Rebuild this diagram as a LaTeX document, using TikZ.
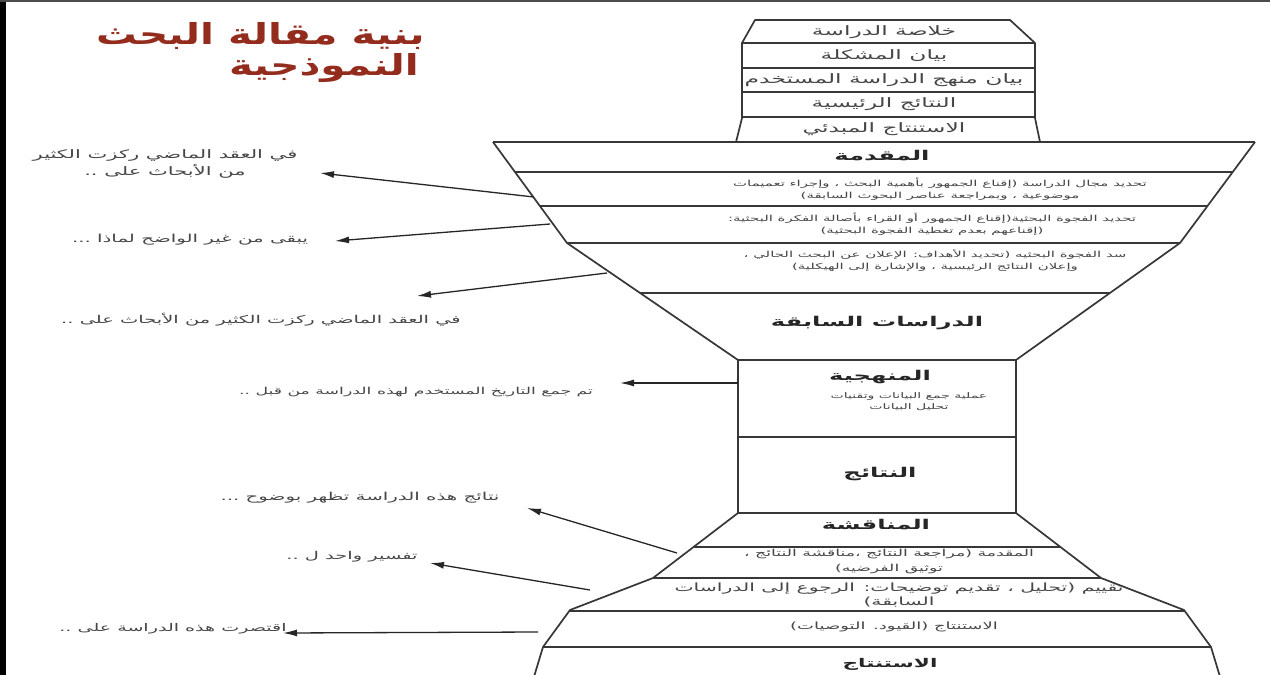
\documentclass[tikz,border=0pt]{standalone}
\usepackage{fontspec}
\usepackage{xcolor}
\usetikzlibrary{arrows.meta}
\newfontfamily\arabicfont[Script=Arabic, FakeStretch=1.8]{DejaVu Sans}
\newfontfamily\titlefont[Script=Arabic, FakeStretch=1.4]{DejaVu Sans}
\TeXXeTstate=1
\definecolor{titlered}{RGB}{148,44,30}
\definecolor{edgegray}{RGB}{55,55,55}
\definecolor{textgray}{RGB}{70,70,70}
\newcommand{\rtl}[1]{\beginR #1\endR}

\begin{document}
\begin{tikzpicture}[x=1pt, y=-1pt,
    edge/.style={draw=edgegray, line width=1.7pt, line join=round},
    rowline/.style={draw=edgegray, line width=1.5pt},
    size/.style 2 args={font=\arabicfont\fontsize{#1}{#2}\selectfont},
    cell/.style={text=textgray, align=center, inner sep=0pt, size={8.3}{12}},
    neckcell/.style={cell, size={13}{15}},
    head/.style={text=black!85, inner sep=0pt, font=\arabicfont\bfseries\fontsize{13.5}{16}\selectfont},
    note/.style={text=textgray, align=center, inner sep=0pt, size={11}{17}},
    pointer/.style={-{Latex[length=14pt,width=7pt]}, line width=1.3pt, black!85}]

    \useasboundingbox (0,0) rectangle (1270,675);
    \fill[white] (0,0) rectangle (1270,675);

    % scan border
    \fill[black] (0,0) rectangle (6,675);
    \fill[black!70] (0,0) rectangle (1270,2);

    % Title
    \node[anchor=east, inner sep=0pt, text=titlered, font=\titlefont\bfseries\fontsize{29}{34}\selectfont] (title1) at (425,36) {\rtl{بنية مقالة البحث}};
    \node[anchor=east, inner sep=0pt, text=titlered, font=\titlefont\bfseries\fontsize{29}{34}\selectfont] (title2) at (419,68) {\rtl{النموذجية}};

    % Neck: abstract
    \begin{scope}
        \clip (755,20) -- (1010,20) -- (1035,43) -- (1035,118) -- (1040,142) -- (736,142) -- (742,118) -- (742,43) -- cycle;
        \foreach \y in {43,68,92,117}
            \draw[rowline] (700,\y) -- (1100,\y);
    \end{scope}
    \draw[edge] (755,20) -- (1010,20) -- (1035,43) -- (1035,118) -- (1040,142) -- (736,142) -- (742,118) -- (742,43) -- cycle;

    \node[neckcell] (abs1) at (884,32) {\rtl{خلاصة الدراسة}};
    \node[neckcell] (abs2) at (884,56) {\rtl{بيان المشكلة}};
    \node[neckcell] (abs3) at (884,80) {\rtl{بيان منهج الدراسة المستخدم}};
    \node[neckcell] (abs4) at (884,104) {\rtl{النتائج الرئيسية}};
    \node[neckcell] (abs5) at (884,129) {\rtl{الاستنتاج المبدئي}};

    % Body: introduction, funnel, boxes, discussion
    \begin{scope}
        \clip (493,142) -- (567,243) -- (738,360) -- (738,513) -- (653,578) -- (570,610) -- (543,647) -- (530,690)
            -- (1224,690) -- (1211,647) -- (1184,610) -- (1101,578) -- (1016,513) -- (1016,360) -- (1180,243) -- (1255,142) -- cycle;
        \foreach \y in {172,206,243,293,360,437,513,547,578,611,647}
            \draw[rowline] (450,\y) -- (1300,\y);
    \end{scope}
    \draw[edge] (493,142) -- (567,243) -- (738,360) -- (738,513) -- (653,578) -- (570,610) -- (543,647) -- (530,690);
    \draw[edge] (1255,142) -- (1180,243) -- (1016,360) -- (1016,513) -- (1101,578) -- (1184,610) -- (1211,647) -- (1224,690);
    \draw[edge] (493,142) -- (1255,142);

    % Introduction
    \node[head] (intro) at (882,156) {\rtl{المقدمة}};
    \node[cell] (intro1) at (940,189) {\rtl{تحديد مجال الدراسة (إقناع الجمهور بأهمية البحث ، وإجراء تعميمات}\\\rtl{موضوعية ، وبمراجعة عناصر البحوث السابقة)}};
    \node[cell] (intro2) at (932,224) {\rtl{تحديد الفجوة البحثية(إقناع الجمهور أو القراء بأصالة الفكرة البحثية:}\\\rtl{(إقناعهم بعدم تغطية الفجوة البحثية)}};
    \node[cell] (intro3) at (935,261) {\rtl{سد الفجوة البحثيه (تحديد الأهداف: الإعلان عن البحث الحالي ،}\\\rtl{وإعلان النتائج الرئيسية ، والإشارة إلى الهيكلية)}};

    % Previous studies, methodology, results
    \node[head] (prev) at (877,323) {\rtl{الدراسات السابقة}};
    \node[head] (method) at (880,377) {\rtl{المنهجية}};
    \node[cell, size={7.8}{11}] (method1) at (909,402) {\rtl{عملية جمع البيانات وتقنيات}\\\rtl{تحليل البيانات}};
    \node[head] (results) at (880,474) {\rtl{النتائج}};

    % Discussion and conclusion
    \node[head] (disc) at (876,525) {\rtl{المناقشة}};
    \node[cell, size={9.6}{15}] (disc1) at (889,562) {\rtl{المقدمة (مراجعة النتائج ،مناقشة النتائج ،}\\\rtl{توثيق الفرضيه)}};
    \node[cell, size={11.3}{14}] (disc2) at (899,595) {\rtl{تقييم (تحليل ، تقديم توضيحات: الرجوع إلى الدراسات}\\\rtl{السابقة)}};
    \node[cell, size={10}{12}] (disc3) at (894,627) {\rtl{الاستنتاج (القيود. التوصيات)}};
    \node[head, font=\arabicfont\bfseries\fontsize{12}{14}\selectfont] (concl) at (890,664) {\rtl{الاستنتاج}};

    % Side notes
    \node[note, size={11.7}{17}] (note1) at (165,164) {\rtl{في العقد الماضي ركزت الكثير}\\\rtl{من الأبحاث على ..}};
    \node[note] (note2) at (190,240) {\rtl{يبقى من غير الواضح لماذا ...}};
    \node[note, size={10.8}{17}] (note3) at (261,320) {\rtl{في العقد الماضي ركزت الكثير من الأبحاث على ..}};
    \node[note, size={9.6}{17}] (note4) at (416,392) {\rtl{تم جمع التاريخ المستخدم لهذه الدراسة من قبل ..}};
    \node[note] (note5) at (360,498) {\rtl{نتائج هذه الدراسة تظهر بوضوح ...}};
    \node[note, size={10.8}{17}] (note6) at (352,557) {\rtl{تفسير واحد ل ..}};
    \node[note, size={10.6}{17}] (note7) at (173,629) {\rtl{اقتصرت هذه الدراسة على ..}};

    % Pointers
    \coordinate (from1) at (534,197);  \coordinate (to1) at (320,173);
    \coordinate (from2) at (550,224);  \coordinate (to2) at (335,241);
    \coordinate (from3) at (607,273);  \coordinate (to3) at (417,296);
    \coordinate (from4) at (738,383);  \coordinate (to4) at (620,383);
    \coordinate (from5) at (677,553);  \coordinate (to5) at (527,508);
    \coordinate (from6) at (590,590);  \coordinate (to6) at (430,563);
    \coordinate (from7) at (538,632);  \coordinate (to7) at (283,633);
    \foreach \i in {1,...,7}
        \draw[pointer] (from\i) -- (to\i);
\end{tikzpicture}
\end{document}
